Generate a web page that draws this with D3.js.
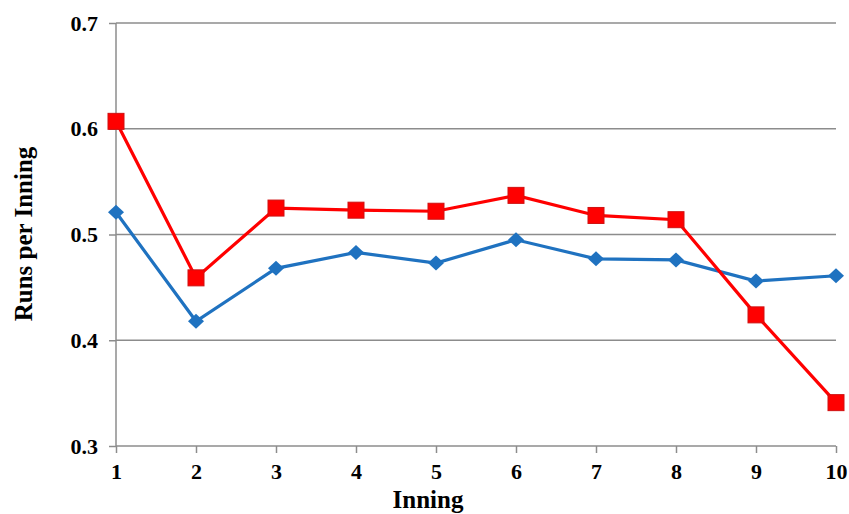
<!DOCTYPE html>
<html><head><meta charset="utf-8">
<script src="https://cdn.jsdelivr.net/npm/d3@7"></script>
<style>body{margin:0;background:#fff}svg{display:block}text{font-family:"Liberation Serif","Times New Roman",serif;font-weight:bold;fill:#000}</style>
</head><body><svg id="c" width="849" height="514"></svg>
<script>
const innings = [1,2,3,4,5,6,7,8,9,10];
const redSeries = [0.607,0.459,0.525,0.523,0.522,0.537,0.518,0.514,0.424,0.341];
const blueSeries = [0.521,0.418,0.468,0.483,0.473,0.495,0.477,0.476,0.456,0.461];
const yTicks = [0.3,0.4,0.5,0.6,0.7];
const xTitle = "Inning", yTitle = "Runs per Inning";

const svg = d3.select("#c");
const L=116,R=836,T=23,B=446;
const x = d3.scaleLinear().domain([1,10]).range([L,R]);
const y = d3.scaleLinear().domain([0.3,0.7]).range([B,T]);
const grid="#8c8c8c";

svg.append("g").selectAll("line").data(yTicks.filter(v=>v>0.3)).join("line")
  .attr("x1",L).attr("x2",R).attr("y1",d=>y(d)).attr("y2",d=>y(d))
  .attr("stroke",grid).attr("stroke-width",1.5);

const ya = svg.append("g").attr("transform",`translate(${L},0)`)
  .call(d3.axisLeft(y).tickValues(yTicks).tickFormat(d3.format(".1f")).tickSize(7).tickPadding(11));
const xa = svg.append("g").attr("transform",`translate(0,${B})`)
  .call(d3.axisBottom(x).tickValues(innings).tickFormat(d3.format("d")).tickSize(7).tickPadding(10));
[ya,xa].forEach(a=>{
  a.selectAll("path,line").attr("stroke",grid).attr("stroke-width",1.5);
  a.select(".domain").attr("d", a===ya?`M0,${B}V${T}`:`M${L},0H${R}`);
  a.selectAll("text").style("font-size","22px").style("font-family","Liberation Serif").style("font-weight","bold").attr("fill","#000");
});

const line = d3.line().x((d,i)=>x(innings[i])).y(d=>y(d));
svg.append("path").datum(blueSeries).attr("d",line).attr("fill","none").attr("stroke","#1f72c0").attr("stroke-width",3.2);
svg.append("path").datum(redSeries).attr("d",line).attr("fill","none").attr("stroke","#ff0000").attr("stroke-width",3.2);

svg.append("g").selectAll("path").data(blueSeries).join("path")
  .attr("transform",(d,i)=>`translate(${x(innings[i])},${y(d)})`)
  .attr("d","M0,-7.5L8,0L0,7.5L-8,0Z").attr("fill","#1f72c0");
svg.append("g").selectAll("rect").data(redSeries).join("rect")
  .attr("x",(d,i)=>x(innings[i])-8).attr("y",d=>y(d)-8).attr("width",16).attr("height",16)
  .attr("fill","#ff0000").attr("stroke","#d01010").attr("stroke-width",1);

svg.append("text").attr("x",428).attr("y",508).attr("text-anchor","middle").style("font-size","25px").text(xTitle);
svg.append("text").attr("transform","translate(32,234) rotate(-90)").attr("text-anchor","middle").style("font-size","25px").text(yTitle);
</script></body></html>
